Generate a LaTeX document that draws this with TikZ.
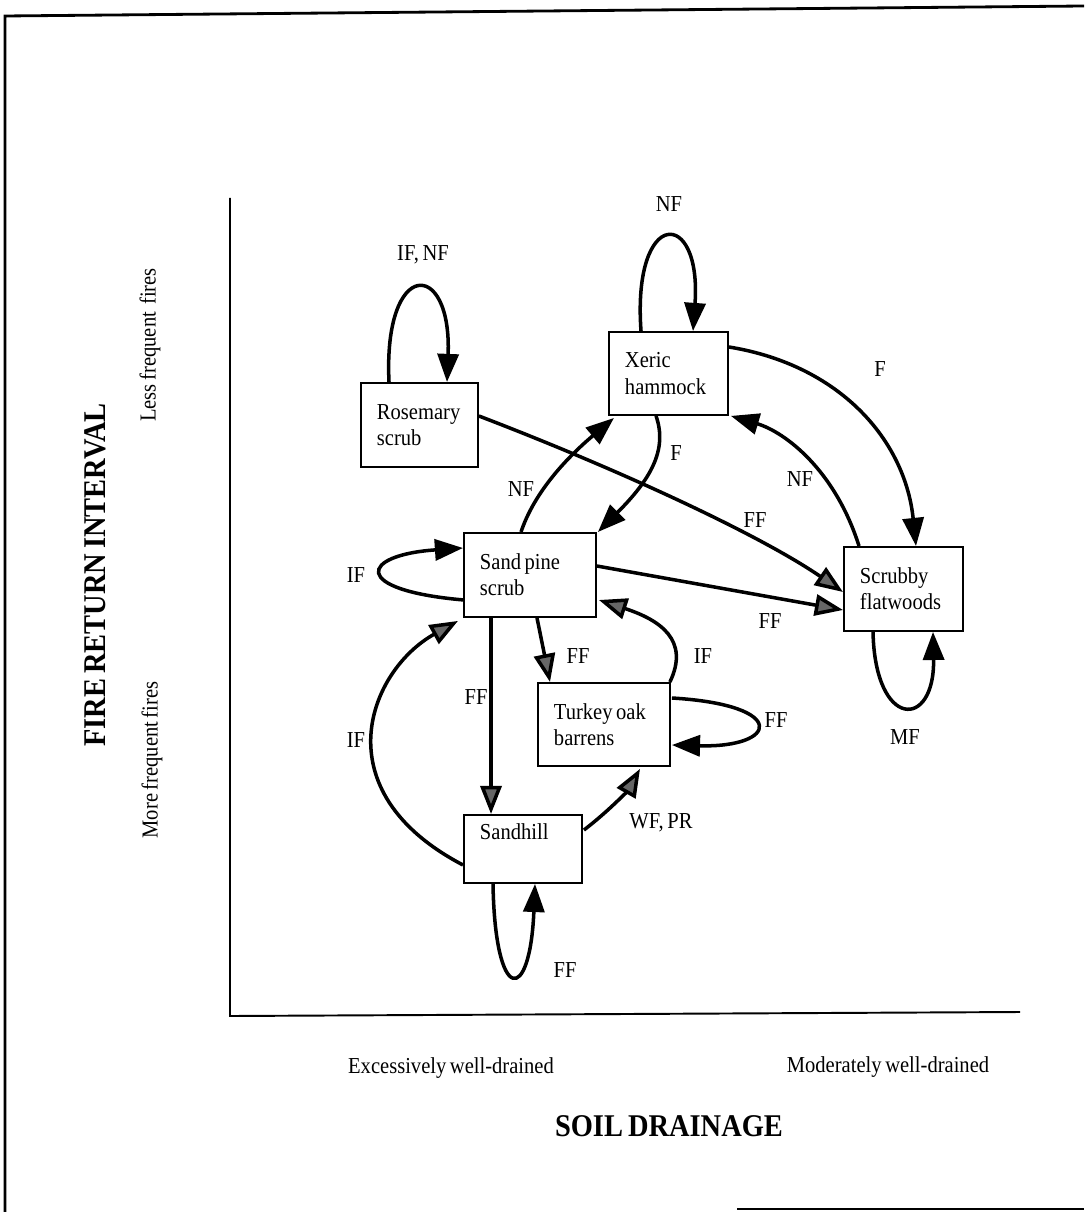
\documentclass[tikz,border=0pt]{standalone}
\usepackage{fontspec}
\setmainfont[FakeStretch=0.9, WordSpace=0.7]{Liberation Serif}
\usetikzlibrary{arrows.meta,calc}
\tikzset{
  box/.style={draw, line width=1.1pt, rectangle, align=flush left, anchor=north west,
    inner xsep=0.32cm, inner ysep=0pt, font=\fontsize{13}{15}\selectfont},
  conn/.style={line width=2pt, -{Triangle[length=16pt,width=12pt]}},
  gconn/.style={line width=2pt, -{Triangle[length=16pt,width=12pt,fill=black!60]}},
  lab/.style={font=\fontsize{13}{14}\selectfont, inner sep=0pt},
  axlab/.style={font=\fontsize{13}{14}\selectfont, inner sep=0pt},
  title/.style={font=\bfseries\fontsize{18}{20}\selectfont, inner sep=0pt},
}
\begin{document}
\begin{tikzpicture}[x=0.02cm, y=-0.02cm]
\useasboundingbox (0,0) rectangle (1084,1212);
% frame
\draw[line width=1.6pt] (1084,6) -- (5,16) -- (5,1212);
\draw[line width=1.6pt] (737,1209) -- (1084,1209);
% axes
\coordinate (ytop) at (230,198);
\coordinate (orig) at (230,1016);
\coordinate (xend) at (1020,1012);
\draw[line width=1.1pt] (ytop) -- (orig) -- (xend);

% boxes
\node[box, text width=1.70cm, minimum height=1.68cm] (ros) at (360,382) {Rosemary\\scrub};
\node[box, text width=1.74cm, minimum height=1.66cm] (xer) at (608,331) {Xeric\\hammock};
\node[box, text width=2.00cm, minimum height=1.68cm] (spine) at (463,532) {Sand pine\\scrub};
\node[box, text width=1.74cm, minimum height=1.68cm] (scr) at (843,546) {Scrubby\\flatwoods};
\node[box, text width=2.00cm, minimum height=1.66cm] (tur) at (537,682) {Turkey oak\\barrens};
\node[box, text width=1.72cm, minimum height=1.36cm] (sand) at (463,814) {Sandhill\\\strut};

% connectors
% 1 rosemary loop
\draw[conn] ($(ros.north west)+(29,0)$) .. controls (383,258) and (452,258) .. ($(ros.north west)+(87,0)$);
% 2 xeric loop
\draw[conn] ($(xer.north west)+(33,0)$) .. controls (632,207) and (702,207) .. ($(xer.north west)+(85,0)$);
% 3 xeric -> scrubby F
\draw[conn] ($(xer.north east)+(0,16)$) .. controls (840,365) and (905,440) .. ($(scr.north west)+(73,0)$);
% 4 scrubby -> xeric NF
\draw[conn] ($(scr.north west)+(16,0)$) .. controls (835,470) and (785,432) .. ($(xer.south east)+(2,0)$);
% 5 xeric -> sand pine F
\draw[conn] ($(xer.south west)+(48,0)$) .. controls (668,450) and (650,480) .. ($(spine.north east)+(1,0)$);
% 6 sand pine -> xeric NF
\draw[conn] ($(spine.north west)+(58,0)$) .. controls (535,490) and (570,455) .. ($(xer.south west)+(6,2)$);
% 7 rosemary -> scrubby FF
\draw[gconn] ($(ros.north east)+(0,34)$) .. controls (620,470) and (760,535) .. ($(scr.north west)+(0,46)$);
% 8 sand pine -> scrubby FF
\draw[gconn] ($(spine.north east)+(0,34)$) -- ($(scr.north west)+(0,64)$);
% 9 sand pine IF loop
\draw[conn] ($(spine.south west)+(0,-18)$) .. controls (350,590) and (360,555) .. ($(spine.north west)+(0,16)$);
% 10 sandhill -> sand pine IF
\draw[gconn] ($(sand.north west)+(0,51)$) .. controls (320,790) and (370,670) .. ($(spine.south west)+(-5,3)$);
% 11 sand pine -> sandhill FF
\draw[gconn] ($(spine.south west)+(28,0)$) -- ($(sand.north west)+(28,0)$);
% 12 sand pine -> turkey FF
\draw[gconn] ($(spine.south west)+(74,0)$) -- ($(tur.north west)+(13,0)$);
% 13 turkey -> sand pine IF
\draw[gconn] ($(tur.north east)+(-1,0)$) .. controls (690,640) and (660,620) .. ($(spine.north east)+(2,68)$);
% 14 turkey FF loop
\draw[conn] ($(tur.north east)+(1,16)$) .. controls (790,705) and (778,748) .. ($(tur.north east)+(1,63)$);
% 15 sandhill -> turkey WF, PR
\draw[gconn] ($(sand.north east)+(1,16)$) .. controls (610,810) and (628,790) .. ($(tur.south west)+(103,2)$);
% 16 sandhill FF loop
\draw[conn] ($(sand.south west)+(30,0)$) .. controls (495,1005) and (530,1005) .. ($(sand.south west)+(72,0)$);
% 17 scrubby MF loop
\draw[conn] ($(scr.south west)+(30,0)$) .. controls (875,730) and (935,730) .. ($(scr.south west)+(90,0)$);

% connector labels
\node[lab] (l1) at (423,255) {IF, NF};
\node[lab] (l2) at (669,204) {NF};
\node[lab] (l3) at (880,369) {F};
\node[lab] (l4) at (800,479) {NF};
\node[lab] (l5) at (676,453) {F};
\node[lab] (l6) at (521,489) {NF};
\node[lab] (l7) at (755,520) {FF};
\node[lab] (l8) at (770,621) {FF};
\node[lab] (l9) at (356,575) {IF};
\node[lab] (l10) at (356,740) {IF};
\node[lab] (l11) at (476,697) {FF};
\node[lab] (l12) at (578,656) {FF};
\node[lab] (l13) at (703,656) {IF};
\node[lab] (l14) at (776,720) {FF};
\node[lab] (l15) at (661,823) {WF, PR};
\node[lab] (l16) at (565,970) {FF};
\node[lab] (l17) at (905,737) {MF};

% axis labels
\node[axlab] (exc) at (451,1068) {Excessively well-drained};
\node[axlab] (mod) at (888,1067) {Moderately well-drained};
\node[title] (xt) at (669,1126) {SOIL DRAINAGE};
\node[title, rotate=90] (yt) at (95,575) {FIRE RETURN INTERVAL};
\node[axlab, rotate=90] (less) at (150,345) {Less frequent\ \ fires};
\node[axlab, rotate=90] (more) at (152,760) {More frequent fires};
\end{tikzpicture}
\end{document}
